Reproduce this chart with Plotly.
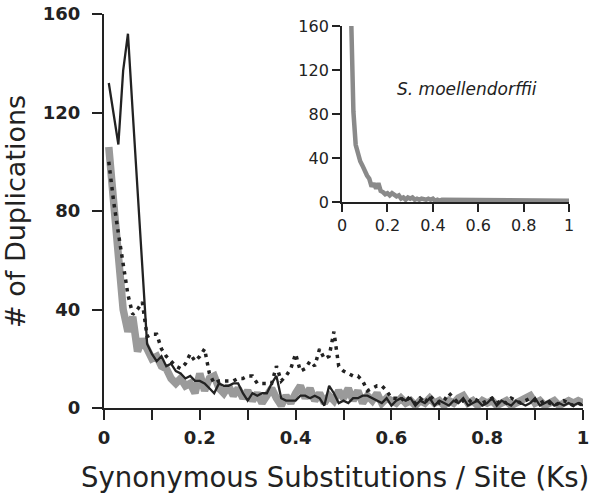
import numpy as np
import plotly.graph_objects as go

# Ks bins (0.01 .. 1.00)
ks = np.round(np.arange(1, 101) * 0.01, 2)

gray_series = [106, 82, 56, 40, 31, 37, 23, 28, 24, 20,
               21, 17, 16, 12, 10, 12, 9, 10, 6, 14,
               7, 12, 13, 8, 6, 9, 5, 8, 4, 7,
               3, 6, 2, 5, 8, 4, 1, 5, 2, 6,
               9, 4, 8, 3, 6, 2, 5, 3, 7, 4,
               8, 3, 7, 2, 5, 3, 6, 2, 4, 3,
               2, 4, 2, 3, 1, 3, 2, 4, 2, 3,
               1, 3, 2, 4, 5, 2, 3, 1, 3, 2,
               3, 1, 2, 3, 1, 2, 3, 4, 5, 2,
               3, 1, 2, 3, 1, 2, 3, 2, 3, 2]

solid_series = [132, 120, 107, 137, 152, 120, 88, 57, 26, 22,
                19, 21, 17, 18, 15, 14, 12, 13, 11, 11,
                10, 8, 6, 10, 9, 9, 10, 10, 6, 3,
                6, 5, 6, 6, 10, 13, 4, 3, 3, 3,
                5, 5, 4, 5, 4, 1, 9, 6, 2, 3,
                2, 4, 4, 5, 5, 4, 3, 2, 4, 1,
                3, 4, 3, 4, 1, 3, 2, 4, 1, 3,
                2, 1, 3, 2, 4, 1, 2, 3, 1, 2,
                4, 1, 3, 2, 1, 3, 2, 1, 2, 4,
                1, 2, 3, 1, 2, 1, 2, 1, 2, 1]

dotted_series = [100, 84, 71, 59, 46, 38, 40, 43, 29, 30,
                 30, 24, 21, 19, 17, 16, 18, 22, 19, 21,
                 24, 14, 10, 11, 11, 11, 11, 12, 12, 13,
                 13, 10, 10, 10, 10, 17, 11, 13, 16, 22,
                 15, 16, 19, 17, 24, 20, 21, 31, 17, 15,
                 14, 13, 13, 11, 7, 8, 9, 9, 7, 4,
                 4, 3, 5, 3, 2, 4, 2, 5, 3, 2,
                 3, 6, 4, 2, 3, 2, 4, 3, 2, 3,
                 4, 2, 3, 2, 4, 3, 2, 3, 4, 3,
                 2, 3, 2, 1, 2, 3, 2, 1, 2, 1]

# Inset: S. moellendorffii (Ks 0.04 .. 1.00)
ks_inset = np.round(np.arange(4, 101) * 0.01, 2)
inset_series = [168, 82, 52, 43, 37, 33, 28, 24, 21, 14,
                17, 12, 17, 10, 9, 7, 8, 6, 8, 6,
                5, 6, 3, 4, 2, 4, 3, 4, 2, 3,
                2, 3, 2, 2, 3, 2, 3, 1, 2, 1,
                2, 2, 1, 2, 1, 2, 2, 1, 2, 1,
                2, 1, 1, 2, 1, 2, 1, 1, 1, 2,
                1, 1, 1, 2, 1, 1, 1, 2, 1, 1,
                1, 2, 1, 1, 1, 2, 1, 1, 1, 1,
                2, 1, 1, 1, 1, 2, 1, 1, 1, 1,
                2, 1, 1, 2, 1, 2, 1]

main_xticks = [0, 0.1, 0.2, 0.3, 0.4, 0.5, 0.6, 0.7, 0.8, 0.9, 1.0]
main_xtext = ["0", "", "0.2", "", "0.4", "", "0.6", "", "0.8", "", "1"]
main_yticks = [0, 40, 80, 120, 160]
inset_xticks = [0, 0.2, 0.4, 0.6, 0.8, 1.0]
inset_xtext = ["0", "0.2", "0.4", "0.6", "0.8", "1"]
inset_yticks = [0, 40, 80, 120, 160]

FONT = "DejaVu Sans"
INK = "#222222"

fig = go.Figure()
fig.add_trace(go.Scatter(x=ks, y=gray_series, mode="lines",
                         line=dict(color="#9a9a9a", width=7.5), hoverinfo="skip"))
fig.add_trace(go.Scatter(x=ks, y=dotted_series, mode="lines",
                         line=dict(color=INK, width=3.5, dash="3.5px,5px"), hoverinfo="skip"))
fig.add_trace(go.Scatter(x=ks, y=solid_series, mode="lines",
                         line=dict(color=INK, width=2.3), hoverinfo="skip"))
fig.add_trace(go.Scatter(x=ks_inset, y=inset_series, mode="lines",
                         line=dict(color="#8a8a8a", width=4.5),
                         xaxis="x2", yaxis="y2", hoverinfo="skip"))

axis_common = dict(showgrid=False, zeroline=False, showline=True, linecolor=INK,
                   linewidth=2, ticks="outside", tickwidth=2, tickcolor=INK,
                   automargin=False)

fig.update_layout(
    width=600, height=495,
    margin=dict(l=104, r=17, t=14, b=87, autoexpand=False),
    paper_bgcolor="white", plot_bgcolor="white",
    showlegend=False,
    font=dict(family=FONT, color=INK),
    xaxis=dict(range=[0, 1], domain=[0, 1], tickvals=main_xticks, ticktext=main_xtext,
               ticklen=10, ticklabelstandoff=2,
               tickfont=dict(family=FONT, size=18, color=INK, weight="bold"),
               **axis_common),
    yaxis=dict(range=[0, 160], domain=[0, 1], tickvals=main_yticks,
               ticklen=10, ticklabelstandoff=8,
               tickfont=dict(family=FONT, size=18, color=INK, weight="bold"),
               **axis_common),
    xaxis2=dict(range=[0, 1], domain=[0.497, 0.971], anchor="y2",
                tickvals=inset_xticks, ticktext=inset_xtext, ticklen=8,
                tickfont=dict(family=FONT, size=16, color=INK),
                **axis_common),
    yaxis2=dict(range=[0, 160], domain=[0.523, 0.9695], anchor="x2",
                tickvals=inset_yticks, ticklen=8,
                tickfont=dict(family=FONT, size=16, color=INK),
                **axis_common),
    annotations=[
        dict(text="# of Duplications", xref="paper", yref="paper",
             x=-0.186, y=0.5, xanchor="center", yanchor="middle",
             textangle=-90, showarrow=False,
             font=dict(family=FONT, size=27, color=INK)),
        dict(text="Synonymous Substitutions / Site (Ks)", xref="paper", yref="paper",
             x=0.482, y=-0.175, xanchor="center", yanchor="middle",
             showarrow=False, font=dict(family=FONT, size=27.5, color=INK)),
        dict(text="<i>S. moellendorffii</i>", xref="paper", yref="paper",
             x=0.758, y=0.81, xanchor="center", yanchor="middle",
             showarrow=False, font=dict(family=FONT, size=17, color=INK)),
    ],
)

fig.write_html("out.html",
               config={"displayModeBar": False},
               post_script="document.body.style.margin='0px';document.body.style.overflow='hidden';")
